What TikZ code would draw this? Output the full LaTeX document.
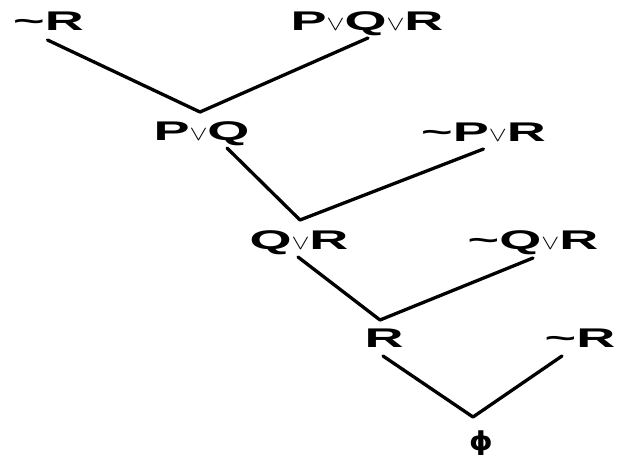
\documentclass[tikz,border=0pt]{standalone}
\usepackage{fontspec}
\setmainfont{Liberation Sans}
\newfontfamily\lblfont[FakeStretch=2.0]{Liberation Sans}
\newfontfamily\phifont{DejaVu Sans}
\newcommand\orr{{\fontsize{21}{21}\selectfont\scalebox{1.3}[1]{$\vee$}}}
\begin{document}
\begin{tikzpicture}[x=1pt,y=-1pt,
  lbl/.style={font=\lblfont\fontsize{27}{27}\selectfont\bfseries, inner sep=0pt, text height=19.3pt, text depth=0pt, anchor=center},
  edge/.style={line width=3.3pt, line cap=round, line join=round}]
\useasboundingbox (0,0) rectangle (622,455);
\node[lbl] (a) at (48.5,21) {\textasciitilde R};
\node[lbl] (b) at (367,21) {P\orr Q\orr R};
\node[lbl] (c) at (201.5,131) {P\orr Q};
\node[lbl] (d) at (483.5,132) {\textasciitilde P\orr R};
\node[lbl] (e) at (299,240) {Q\orr R};
\node[lbl] (f) at (533,240) {\textasciitilde Q\orr R};
\node[lbl] (g) at (384,338) {R};
\node[lbl] (h) at (580,338) {\textasciitilde R};
\node[lbl, font=\phifont\fontsize{26}{26}\selectfont\bfseries] (i) at (481,441) {\scalebox{1.15}[1]{ϕ}};
\coordinate (v1) at (200,112);
\coordinate (v2) at (300,220);
\coordinate (v3) at (380,320);
\coordinate (v4) at (473,417);
\draw[edge] ([xshift=-1pt,yshift=-19pt]a.center) -- (v1) -- ([xshift=1pt,yshift=-17pt]b.center);
\draw[edge] ([xshift=25.5pt,yshift=-17pt]c.center) -- (v2) -- ([xshift=0pt,yshift=-17pt]d.center);
\draw[edge] ([xshift=-1pt,yshift=-17pt]e.center) -- (v3) -- ([xshift=0pt,yshift=-18pt]f.center);
\draw[edge] ([xshift=-1pt,yshift=-18pt]g.center) -- (v4) -- ([xshift=-18pt,yshift=-18pt]h.center);
\end{tikzpicture}
\end{document}
